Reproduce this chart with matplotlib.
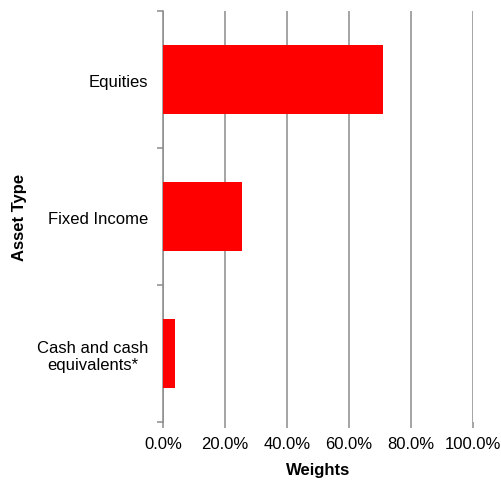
import matplotlib.pyplot as plt
from matplotlib.ticker import PercentFormatter

plt.rcParams['font.family'] = ['Liberation Sans', 'DejaVu Sans']

# data
categories = ['Cash and cash\nequivalents*', 'Fixed Income', 'Equities']
weights = [3.7, 25.4, 71.1]
x_ticks = [0, 20, 40, 60, 80, 100]

fig = plt.figure(figsize=(5.01, 4.85), dpi=100)
ax = fig.add_axes([0.326, 0.128, 0.6175, 0.847])

pos = list(range(len(categories)))
ax.barh(pos, weights, height=0.5, color='#ff0000', zorder=3)

ax.set_xlim(0, 100)
ax.set_ylim(-0.5, len(categories) - 0.5)
ax.set_xticks(x_ticks)
ax.xaxis.set_major_formatter(PercentFormatter(decimals=1))
ax.set_yticks(pos)
ax.set_yticklabels(categories, multialignment='center')
ax.set_yticks([p - 0.5 for p in pos] + [len(categories) - 0.5], minor=True)

gray = '#8c8c8c'
ax.grid(axis='x', color=gray, linewidth=1.1, zorder=0)
for s in ['top', 'right', 'bottom']:
    ax.spines[s].set_visible(False)
ax.spines['left'].set_color(gray)
ax.spines['left'].set_linewidth(1.1)

ax.tick_params(axis='y', which='major', length=0, pad=11, labelsize=12)
ax.tick_params(axis='y', which='minor', length=4, color=gray, width=1.1)
ax.tick_params(axis='x', length=4, color=gray, width=1.1, pad=6, labelsize=12)

ax.set_xlabel('Weights', fontsize=12, fontweight='bold', labelpad=8)
ax.set_ylabel('Asset Type', fontsize=12, fontweight='bold', labelpad=7)

fig.savefig('out.png', dpi=100)
